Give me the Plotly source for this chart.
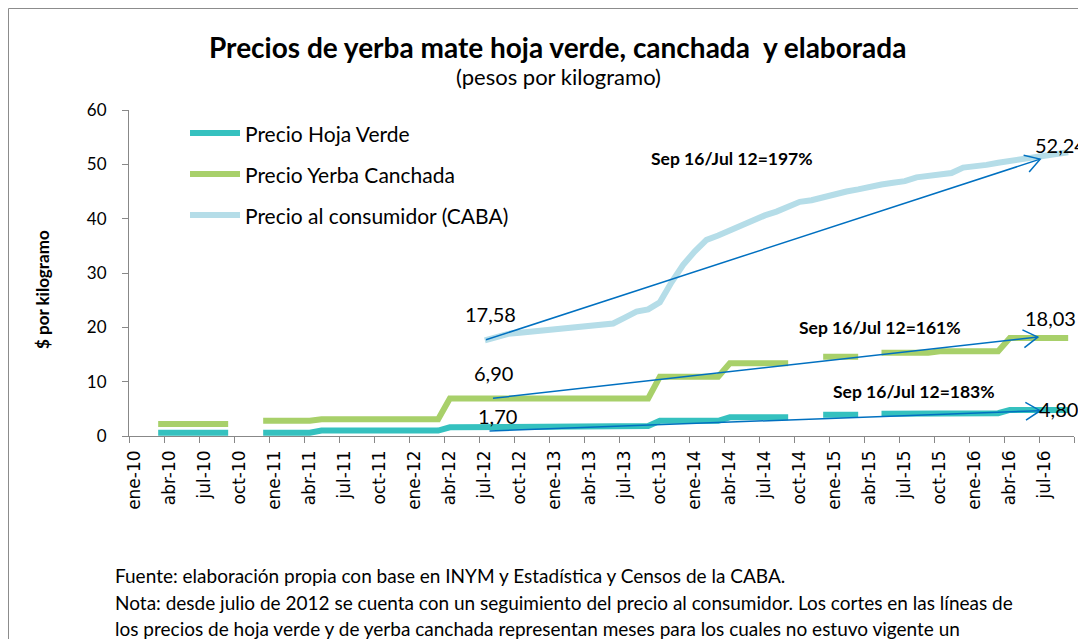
import math
import plotly.graph_objects as go

# ---------------- data ----------------
years = ["10", "11", "12", "13", "14", "15", "16"]
month_abbr = ["ene", "feb", "mar", "abr", "may", "jun", "jul", "ago", "sep", "oct", "nov", "dic"]
months = [f"{m}-{y}" for y in years for m in month_abbr][:81]  # ene-10 .. sep-16

N = None
hoja_verde = ([N, N] + [0.6] * 7 + [N, N] + [0.6] * 5 + [1.0] * 11 + [1.6] * 3 + [1.7] * 3
              + [1.85] * 12 + [2.8] * 6 + [3.45] * 6 + [N, N] + [3.9] * 4 + [N]
              + [4.1] * 5 + [4.2] * 6 + [4.8] * 6)
canchada = ([N, N] + [2.2] * 7 + [N, N] + [2.8] * 5 + [3.1] * 11 + [6.9] * 18
            + [10.9] * 6 + [13.4] * 6 + [N, N] + [14.6] * 4 + [N]
            + [15.3] * 5 + [15.6] * 6 + [18.03] * 6)
consumidor = [N] * 30 + [17.58, 18.2, 18.8, 19.0, 19.2, 19.5, 19.7, 19.9, 20.1, 20.2,
                         20.3, 20.7, 21.8, 22.9, 23.3, 24.6, 28.3, 31.5, 34.0, 36.1,
                         36.9, 37.8, 39.0, 39.9, 40.6, 41.3, 42.2, 43.1, 43.4, 44.0,
                         44.6, 45.0, 45.4, 45.9, 46.3, 46.6, 46.9, 47.6, 47.8, 48.1,
                         48.4, 49.4, 49.6, 49.9, 50.3, 50.6, 50.9, 51.2, 51.7, 52.0, 52.24]

series_names = ["Precio Hoja Verde", "Precio Yerba Canchada", "Precio al consumidor (CABA)"]
series_colors = ["#35C1BF", "#A8D06A", "#B5DDE8"]
x_idx = list(range(len(months)))
tick_idx = list(range(0, len(months) - 2, 3))
tick_labels = [months[i] for i in tick_idx]
boundary_ticks = [i - 0.5 for i in range(0, len(months) + 1, 3)]

yticks = [0, 10, 20, 30, 40, 50, 60]

# ---------------- geometry (screen pixels) ----------------
W, H = 1086, 639
OFF = 8                     # page offset of the figure inside the browser window
PL, PR, PT, PB = 129, 1074, 110, 436   # plot area in screen pixels
PW = PR - PL
PH = PB - PT
NCAT = len(months)
YMAX = 60


def pxx(px):
    return (px - PL) / PW


def pxy(py):
    return (PB - py) / PH


def to_px(i, v):
    return PL + (i + 0.5) * PW / NCAT, PB - v * PH / YMAX


def to_data(px, py):
    return (px - PL) / (PW / NCAT) - 0.5, (PB - py) * YMAX / PH


fig = go.Figure()
for name, vals, col in zip(series_names, [hoja_verde, canchada, consumidor], series_colors):
    fig.add_trace(go.Scatter(x=x_idx, y=vals, mode="lines", name=name,
                             line=dict(color=col, width=6), connectgaps=False,
                             showlegend=False, hoverinfo="skip"))

# dummy trace to attach the label axis
fig.add_trace(go.Scatter(x=tick_idx, y=[None] * len(tick_idx), xaxis="x2", yaxis="y",
                         showlegend=False, hoverinfo="skip", mode="markers"))

shapes = []
ARROW = "#0070C0"
arrows = [((30.1, 17.7), (77.6, 50.96)),
          ((30.7, 6.94), (77.4, 18.2)),
          ((30.4, 0.92), (77.6, 4.66))]
for (ti, tv), (hi, hv) in arrows:
    shapes.append(dict(type="line", xref="x", yref="y", x0=ti, y0=tv, x1=hi, y1=hv,
                       line=dict(color=ARROW, width=1.5)))
    tx, ty = to_px(ti, tv)
    hx, hy = to_px(hi, hv)
    ang = math.atan2(ty - hy, tx - hx)
    pts = []
    for d in (+0.55, -0.55):
        ax = hx + 17 * math.cos(ang + d)
        ay = hy + 17 * math.sin(ang + d)
        pts.append(to_data(ax, ay))
    p = f"M {pts[0][0]},{pts[0][1]} L {hi},{hv} L {pts[1][0]},{pts[1][1]}"
    shapes.append(dict(type="path", xref="x", yref="y", path=p,
                       line=dict(color=ARROW, width=1.5)))

# outer border
shapes.append(dict(type="rect", xref="paper", yref="paper",
                   x0=pxx(OFF + 0.5), x1=pxx(1082), y0=pxy(700), y1=pxy(OFF + 0.5),
                   line=dict(color="#8c8c8c", width=1), fillcolor="rgba(0,0,0,0)", layer="below"))

FONT = "Lato"
ann = []


def text(t, px, py, size, bold=False, xanchor="center", angle=0):
    ann.append(dict(text=f"<b>{t}</b>" if bold else t, x=pxx(px), y=pxy(py),
                    xref="paper", yref="paper", showarrow=False, xanchor=xanchor,
                    yanchor="middle", textangle=angle,
                    font=dict(family=FONT, size=size, color="#000")))


text("Precios de yerba mate hoja verde, canchada  y elaborada", 557, 47, 28, bold=True)
text("(pesos por kilogramo)", 558, 77, 22)
text("$ por kilogramo", 42, 290, 17, bold=True, angle=-90)

# manual legend
legend_y = [133, 174, 215]
for name, col, ly in zip(series_names, series_colors, legend_y):
    shapes.append(dict(type="line", xref="paper", yref="paper", x0=pxx(190), x1=pxx(240),
                       y0=pxy(ly), y1=pxy(ly), line=dict(color=col, width=6)))
    text(name, 243, ly, 21, xanchor="left")

value_labels = [("17,58", 490, 314), ("6,90", 493, 373), ("1,70", 497, 416),
                ("52,24", 1060, 145), ("18,03", 1050, 318), ("4,80", 1058, 409)]
for t, px, py in value_labels:
    text(t, px, py, 20)

pct_labels = [("Sep 16/Jul 12=197%", 732, 158), ("Sep 16/Jul 12=161%", 880, 327),
              ("Sep 16/Jul 12=183%", 914, 391)]
for t, px, py in pct_labels:
    text(t, px, py, 17.5, bold=True)

footer = ["Fuente: elaboración propia con base en INYM y Estadística y Censos de la CABA.",
          "Nota: desde julio de 2012 se cuenta con un seguimiento del precio al consumidor. Los cortes en las líneas de",
          "los precios de hoja verde y de yerba canchada representan meses para los cuales no estuvo vigente un"]
for t, py in zip(footer, [575, 602, 628]):
    text(t, 113, py, 19, xanchor="left")

fig.update_layout(
    width=W, height=H,
    margin=dict(l=PL - OFF, r=W - PR + OFF, t=PT - OFF, b=H - PB + OFF),
    paper_bgcolor="white", plot_bgcolor="white",
    showlegend=False,
    xaxis=dict(range=[-0.5, NCAT - 0.5], tickmode="array", tickvals=boundary_ticks,
               showticklabels=False, ticks="outside", ticklen=6, tickcolor="#888",
               showline=True, linecolor="#888", linewidth=1, showgrid=False, zeroline=False),
    xaxis2=dict(range=[-0.5, NCAT - 0.5], overlaying="x", anchor="y", side="bottom",
                tickmode="array", tickvals=tick_idx, ticktext=tick_labels, tickangle=-90,
                ticks="", showline=False, showgrid=False, zeroline=False,
                ticklabelstandoff=10,
                tickfont=dict(family="DejaVu Sans", size=17, color="#000")),
    yaxis=dict(range=[0, YMAX], tickmode="array", tickvals=yticks, ticks="outside", ticklen=6,
               tickcolor="#888", showline=True, linecolor="#888", linewidth=1, showgrid=False,
               zeroline=False, ticklabelstandoff=12,
               tickfont=dict(family=FONT, size=17, color="#000")),
    shapes=shapes, annotations=ann,
)

fig.write_html("out.html")
